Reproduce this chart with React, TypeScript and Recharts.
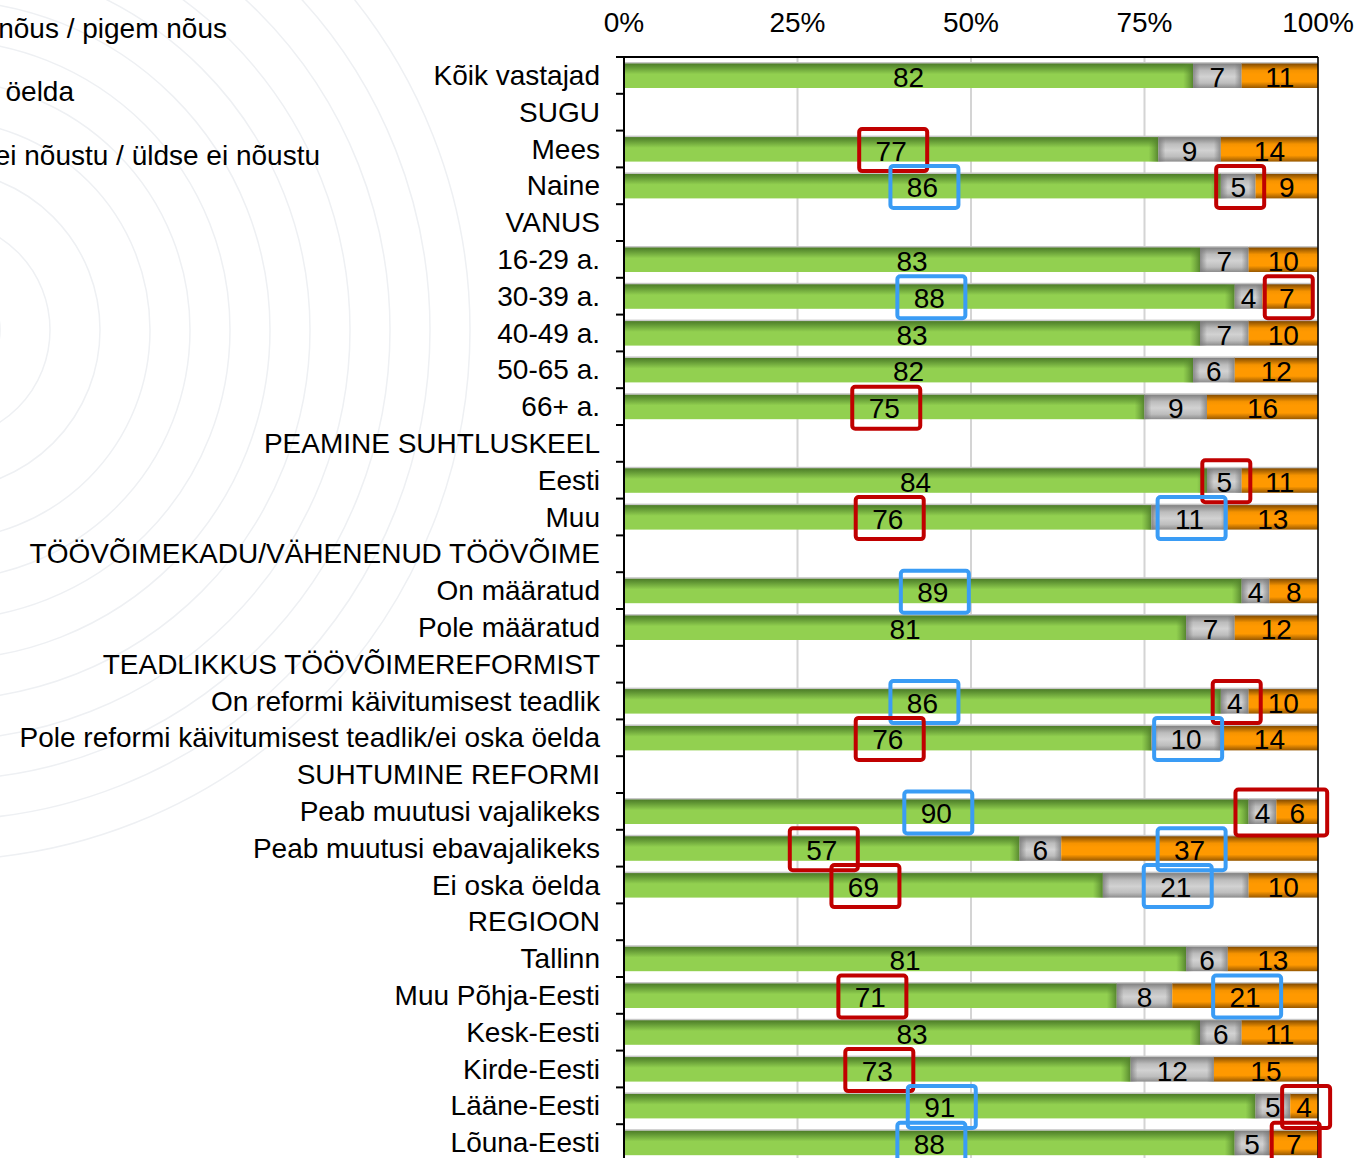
import React from "react"
import { Bar, BarChart, CartesianGrid, LabelList, ReferenceLine, XAxis, YAxis } from "recharts"

const categories = [
  "Kõik vastajad",
  "SUGU",
  "Mees",
  "Naine",
  "VANUS",
  "16-29 a.",
  "30-39 a.",
  "40-49 a.",
  "50-65 a.",
  "66+ a.",
  "PEAMINE SUHTLUSKEEL",
  "Eesti",
  "Muu",
  "TÖÖVÕIMEKADU/VÄHENENUD TÖÖVÕIME",
  "On määratud",
  "Pole määratud",
  "TEADLIKKUS TÖÖVÕIMEREFORMIST",
  "On reformi käivitumisest teadlik",
  "Pole reformi käivitumisest teadlik/ei oska öelda",
  "SUHTUMINE REFORMI",
  "Peab muutusi vajalikeks",
  "Peab muutusi ebavajalikeks",
  "Ei oska öelda",
  "REGIOON",
  "Tallinn",
  "Muu Põhja-Eesti",
  "Kesk-Eesti",
  "Kirde-Eesti",
  "Lääne-Eesti",
  "Lõuna-Eesti",
]

const agree = [82, null, 77, 86, null, 83, 88, 83, 82, 75, null, 84, 76, null, 89, 81, null, 86, 76, null, 90, 57, 69, null, 81, 71, 83, 73, 91, 88]
const neutral = [7, null, 9, 5, null, 7, 4, 7, 6, 9, null, 5, 11, null, 4, 7, null, 4, 10, null, 4, 6, 21, null, 6, 8, 6, 12, 5, 5]
const disagree = [11, null, 14, 9, null, 10, 7, 10, 12, 16, null, 11, 13, null, 8, 12, null, 10, 14, null, 6, 37, 10, null, 13, 21, 11, 15, 4, 7]

// highlight frames: r = red, b = blue, R = red frame spanning neutral + disagree
const agreeMark = ["", "", "r", "b", "", "", "b", "", "", "r", "", "", "r", "", "b", "", "", "b", "r", "", "b", "r", "r", "", "", "r", "", "r", "b", "b"]
const neutralMark = ["", "", "", "r", "", "", "", "", "", "", "", "r", "b", "", "", "", "", "r", "b", "", "R", "", "b", "", "", "", "", "", "", ""]
const disagreeMark = ["", "", "", "", "", "", "r", "", "", "", "", "", "", "", "", "", "", "", "", "", "", "b", "", "", "", "b", "", "", "r", "r"]

const xTicks = [0, 25, 50, 75, 100]

const legendLabels = ["Täiesti nõus / pigem nõus", "Ei oska öelda", "Pigem ei nõustu / üldse ei nõustu"]

const data = categories.map((name, i) => ({
  name,
  agree: agree[i],
  neutral: neutral[i],
  disagree: disagree[i],
}))

const FONT = "'Liberation Sans', Arial, sans-serif"
const FS = 28
const Y_WIDTH = 624
const BAND = 1104 / categories.length
const RED = "#c00000"
const BLUE = "#3a9cf5"

const frame = (cx: number, cy: number, value: number, color: string) => {
  const w = String(value).length > 1 ? 68 : 48
  return (
    <rect
      x={cx - w / 2 + 2}
      y={cy - 21}
      width={w}
      height={42}
      rx={3}
      fill="none"
      stroke={color === "b" ? BLUE : RED}
      strokeWidth={4}
    />
  )
}

const GreenShape = (p: any) => {
  const { x, y, width, height } = p
  if (!width || width <= 0) return null
  return (
    <g>
      <rect x={x} y={y} width={width} height={height} fill="url(#gGreen)" />
      <rect x={x + width - 10} y={y} width={10} height={height} fill="url(#gGreenEdge)" />
      <rect x={x} y={y - 1} width={width} height={1.5} fill="#c8c8c8" />
    </g>
  )
}

const GrayShape = (p: any) => {
  const { x, y, width, height } = p
  if (!width || width <= 0) return null
  const e = Math.min(7, width / 3)
  return (
    <g>
      <rect x={x} y={y} width={width} height={height} fill="url(#gGray)" />
      <rect x={x} y={y} width={e} height={height} fill="url(#gGrayL)" />
      <rect x={x + width - e} y={y} width={e} height={height} fill="url(#gGrayR)" />
      <rect x={x} y={y - 1} width={width} height={1.5} fill="#c8c8c8" />
    </g>
  )
}

const OrangeShape = (p: any) => {
  const { x, y, width, height } = p
  if (!width || width <= 0) return null
  return (
    <g>
      <rect x={x} y={y} width={width} height={height} fill="url(#gOrange)" />
      <rect x={x} y={y - 1} width={width} height={1.5} fill="#c8c8c8" />
    </g>
  )
}

// highlight frames for the whole row, drawn with the last series' labels so they sit on top
const frameLabel = (p: any) => {
  const vb = p.viewBox || p
  const i = p.index
  if (i == null || disagree[i] == null) return null
  const ppu = (vb.x - Y_WIDTH) / (agree[i] + neutral[i])
  const x0 = Y_WIDTH
  const cy = vb.y + vb.height / 2 + 1
  const gc = x0 + (agree[i] * ppu) / 2
  const nc = x0 + (agree[i] + neutral[i] / 2) * ppu
  const oc = x0 + (agree[i] + neutral[i] + disagree[i] / 2) * ppu
  return (
    <g>
      {agreeMark[i] && frame(gc, cy, agree[i], agreeMark[i])}
      {neutralMark[i] === "R" ? (
        <rect x={nc - 27} y={cy - 23} width={oc - nc + 57} height={46} rx={3} fill="none" stroke={RED} strokeWidth={4} />
      ) : (
        neutralMark[i] && frame(nc, cy, neutral[i], neutralMark[i])
      )}
      {disagreeMark[i] && frame(oc, cy, disagree[i], disagreeMark[i])}
    </g>
  )
}

const valueLabel = (p: any) => {
  const vb = p.viewBox || p
  const { x, y, width, height } = vb
  if (p.value == null || !width) return null
  return (
    <text
      x={x + width / 2}
      y={y + height / 2 + 2}
      textAnchor="middle"
      dominantBaseline="central"
      fontSize={FS}
      fontFamily={FONT}
      fill="#000"
    >
      {p.value}
    </text>
  )
}

const YTick = (p: any) => {
  const { y, payload, index } = p
  return (
    <g>
      <text x={600} y={y} textAnchor="end" dominantBaseline="central" fontSize={FS} fontFamily={FONT} fill="#000">
        {payload.value}
      </text>
      <line x1={616} x2={624} y1={y + BAND / 2} y2={y + BAND / 2} stroke="#000" strokeWidth={2} />
      {index === 0 && <line x1={616} x2={624} y1={y - BAND / 2} y2={y - BAND / 2} stroke="#000" strokeWidth={2} />}
    </g>
  )
}

const XTick = (p: any) => {
  const { x, payload } = p
  return (
    <text x={x} y={22} textAnchor="middle" dominantBaseline="central" fontSize={FS} fontFamily={FONT} fill="#000">
      {`${payload.value}%`}
    </text>
  )
}

const arcs = [60, 110, 160, 210, 250, 290, 330, 370, 410, 450, 490, 530]

export default function App() {
  return (
    <div
      style={{
        position: "fixed",
        left: 0,
        top: 0,
        width: 1365,
        height: 1158,
        overflow: "hidden",
        background: "#fff",
        fontFamily: FONT,
      }}
    >
      <svg width={1365} height={1158} style={{ position: "absolute", left: 0, top: 0 }}>
        {arcs.map((r, i) => (
          <circle key={i} cx={-60} cy={330} r={r} fill="none" stroke="#eef0f3" strokeWidth={1.5} />
        ))}
        {legendLabels.map((t, i) => (
          <text
            key={t}
            x={[227, 74, 320][i]}
            y={[28, 91, 155][i]}
            textAnchor="end"
            dominantBaseline="central"
            fontSize={FS}
            fontFamily={FONT}
            fill="#000"
          >
            {t}
          </text>
        ))}
      </svg>
      <div style={{ position: "absolute", left: 0, top: 0 }}>
        <BarChart
          width={1365}
          height={1161}
          data={data}
          layout="vertical"
          margin={{ top: 0, right: 47, bottom: 0, left: 0 }}
          barSize={25}
        >
          <defs>
            <linearGradient id="gGreen" x1="0" y1="0" x2="0" y2="1">
              <stop offset="0" stopColor="#4a7826" />
              <stop offset="0.15" stopColor="#5f9433" />
              <stop offset="0.45" stopColor="#92d050" />
              <stop offset="1" stopColor="#92d050" />
            </linearGradient>
            <linearGradient id="gGreenEdge" x1="0" y1="0" x2="1" y2="0">
              <stop offset="0" stopColor="#5f9433" stopOpacity="0" />
              <stop offset="1" stopColor="#4f7d2a" stopOpacity="0.9" />
            </linearGradient>
            <linearGradient id="gGray" x1="0" y1="0" x2="0" y2="1">
              <stop offset="0" stopColor="#7c7c7c" />
              <stop offset="0.3" stopColor="#bdbdbd" />
              <stop offset="0.55" stopColor="#d2d2d2" />
              <stop offset="0.8" stopColor="#bdbdbd" />
              <stop offset="1" stopColor="#8c8c8c" />
            </linearGradient>
            <linearGradient id="gGrayL" x1="0" y1="0" x2="1" y2="0">
              <stop offset="0" stopColor="#7a7a7a" stopOpacity="0.8" />
              <stop offset="1" stopColor="#7a7a7a" stopOpacity="0" />
            </linearGradient>
            <linearGradient id="gGrayR" x1="0" y1="0" x2="1" y2="0">
              <stop offset="0" stopColor="#7a7a7a" stopOpacity="0" />
              <stop offset="1" stopColor="#7a7a7a" stopOpacity="0.8" />
            </linearGradient>
            <linearGradient id="gOrange" x1="0" y1="0" x2="0" y2="1">
              <stop offset="0" stopColor="#7a4500" />
              <stop offset="0.3" stopColor="#f59300" />
              <stop offset="0.45" stopColor="#ff9900" />
              <stop offset="0.75" stopColor="#ff9900" />
              <stop offset="1" stopColor="#985800" />
            </linearGradient>
          </defs>
          <CartesianGrid horizontal={false} stroke="#d4d4d4" strokeWidth={2} />
          <XAxis
            type="number"
            orientation="top"
            domain={[0, 100]}
            allowDataOverflow
            ticks={xTicks}
            height={57}
            axisLine={{ stroke: "#000", strokeWidth: 2 }}
            tickLine={false}
            tick={<XTick />}
            interval={0}
          />
          <YAxis
            type="category"
            dataKey="name"
            width={Y_WIDTH}
            axisLine={{ stroke: "#000", strokeWidth: 2 }}
            tickLine={false}
            tick={<YTick />}
            interval={0}
          />
          <ReferenceLine x={100} stroke="#000" strokeWidth={1.5} />
          <Bar dataKey="agree" stackId="a" shape={<GreenShape />} isAnimationActive={false}>
            <LabelList dataKey="agree" content={valueLabel} />
          </Bar>
          <Bar dataKey="neutral" stackId="a" shape={<GrayShape />} isAnimationActive={false}>
            <LabelList dataKey="neutral" content={valueLabel} />
          </Bar>
          <Bar dataKey="disagree" stackId="a" shape={<OrangeShape />} isAnimationActive={false}>
            <LabelList dataKey="disagree" content={valueLabel} />
            <LabelList dataKey="disagree" content={frameLabel} />
          </Bar>
        </BarChart>
      </div>
    </div>
  )
}
